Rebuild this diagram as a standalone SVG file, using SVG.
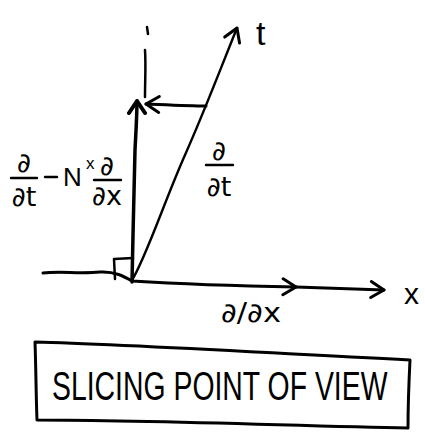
<svg xmlns="http://www.w3.org/2000/svg" width="425" height="434" viewBox="0 0 425 434">
<defs>
<style>
.ln{fill:none;stroke:#000;stroke-width:3;stroke-linecap:round;stroke-linejoin:round}
.thin{fill:none;stroke:#000;stroke-width:2.4;stroke-linecap:round}
.hw{font-family:"Liberation Sans",Arial,sans-serif;fill:#000}
.m{font-family:"DejaVu Sans","Liberation Sans",sans-serif;fill:#000;font-size:27px}
</style>
<marker id="ah" markerUnits="userSpaceOnUse" markerWidth="20" markerHeight="20" refX="16" refY="10" orient="auto">
<path d="M3,2 L16,10 L3,18" fill="none" stroke="#000" stroke-width="3" stroke-linecap="round" stroke-linejoin="round"/>
</marker>
<marker id="ahb" markerUnits="userSpaceOnUse" markerWidth="20" markerHeight="20" refX="16" refY="10" orient="auto">
<path d="M4,2 L16,10 L4,18" fill="none" stroke="#000" stroke-width="4" stroke-linecap="round" stroke-linejoin="round"/>
</marker>
</defs>
<rect width="425" height="434" fill="#fff"/>
<g id="connectors">
<path class="ln" d="M43,273 C60,271 80,274 100,272 C115,271 125,277 132,281 C180,284 240,286 296,287" marker-end="url(#ah)"/>
<path class="ln" d="M296,287 C330,288 360,289 384,290" marker-end="url(#ah)"/>
<path class="ln" d="M132,282 C133,240 134,180 135,150 C136,130 137,115 137,101" style="stroke-width:3.5" marker-end="url(#ahb)"/>
<path class="thin" d="M132,280 C145,260 165,200 185,155 C205,110 220,70 237,28" marker-end="url(#ah)"/>
<path class="ln" d="M206,106 C190,106 170,105 146,104" marker-end="url(#ah)"/>
<path class="ln" d="M147,27 L148,34 M145,50 C146,65 145,80 145,97" style="stroke-width:2.5"/>
<path class="ln" d="M115,279 L114,259 L133,258" style="stroke-width:2.5"/>
</g>
<g id="label-t"><text class="hw" x="256" y="45" font-size="34">t</text></g>
<g id="label-x"><text class="hw" x="404" y="304" font-size="30">x</text></g>
<g id="label-dx"><text class="m" x="221" y="322" textLength="60" lengthAdjust="spacingAndGlyphs">∂/∂x</text></g>
<g id="label-dt">
<text class="m" x="219" y="160" text-anchor="middle">∂</text>
<path class="thin" d="M206,165 L233,165"/>
<text class="m" x="219" y="196" text-anchor="middle">∂t</text>
</g>
<g id="label-normal">
<text class="m" x="24" y="172" text-anchor="middle">∂</text>
<path class="thin" d="M11,178 L37,178"/>
<text class="m" x="24" y="206" text-anchor="middle">∂t</text>
<path class="thin" d="M45,177 L57,177"/>
<text class="hw" x="63" y="186" font-size="26">N</text>
<text class="hw" x="86" y="169" font-size="17">x</text>
<text class="m" x="107" y="175" text-anchor="middle">∂</text>
<path class="thin" d="M94,180 L121,180"/>
<text class="m" x="107" y="205" text-anchor="middle">∂x</text>
</g>
<g id="caption">
<path class="ln" d="M35,342 C120,344 250,352 410,360 C409,380 408,405 408,428 C300,426 150,420 37,420 C36,395 36,370 35,342 Z"/>
<text class="hw" transform="translate(52,400) scale(0.71,1)" x="0" y="0" font-size="40">SLICING POINT OF VIEW</text>
</g>
</svg>
